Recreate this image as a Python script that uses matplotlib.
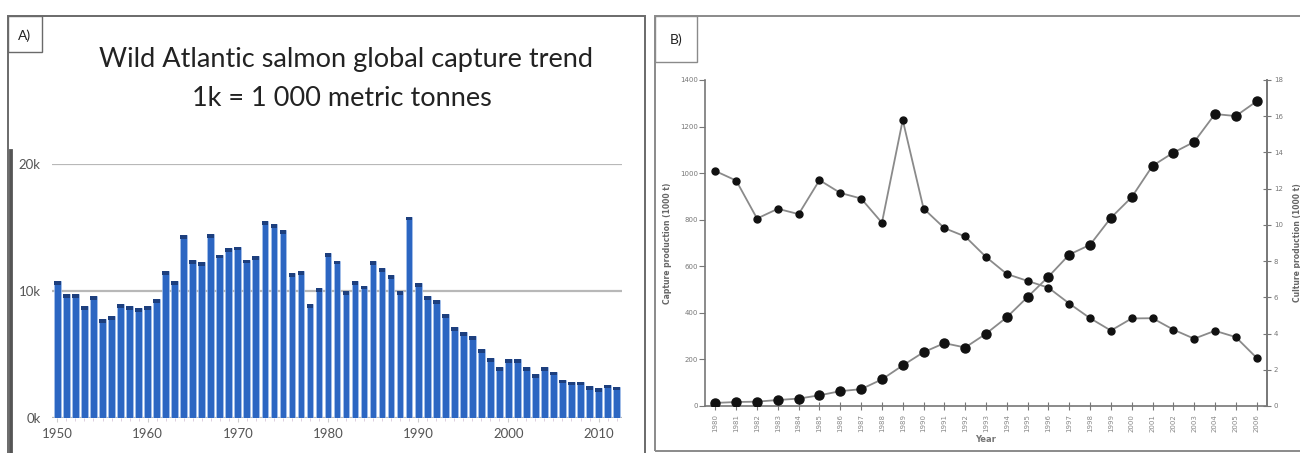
import numpy as np
import matplotlib
matplotlib.use("Agg")
from matplotlib import pyplot as plt
from matplotlib.patches import Rectangle

# panel A: wild Atlantic salmon capture, thousand tonnes, 1950-2012
years_a = np.arange(1950, 2013)
capture_a = [10.8, 9.76, 9.76, 8.83, 9.6, 7.8, 8.04, 9.0, 8.83, 8.65,
             8.8, 9.34, 11.56, 10.77, 14.4, 12.44, 12.3, 14.5, 12.86, 13.37,
             13.5, 12.47, 12.73, 15.5, 15.3, 14.8, 11.38, 11.54, 9.0, 10.24,
             12.97, 12.4, 10.0, 10.77, 10.42, 12.33, 11.8, 11.27, 10.0, 15.86,
             10.64, 9.6, 9.31, 8.17, 7.14, 6.74, 6.47, 5.44, 4.7, 4.0,
             4.67, 4.67, 4.0, 3.47, 4.0, 3.66, 3.02, 2.86, 2.86, 2.49,
             2.33, 2.63, 2.47]
ticks_a = [1950, 1960, 1970, 1980, 1990, 2000, 2010]
ylabels_a = ["0k", "10k", "20k"]

# panel B: capture (left axis) and culture (right axis), 1980-2006
years_b = np.arange(1980, 2007)
capture_b = [1009, 968, 805, 847, 824, 970, 915, 891, 787, 1228,
             848, 764, 728, 640, 567, 537, 508, 440, 377, 324,
             376, 377, 328, 289, 323, 296, 207]
culture_b = [0.17, 0.22, 0.24, 0.33, 0.41, 0.59, 0.82, 0.93, 1.47, 2.24,
             2.97, 3.47, 3.23, 3.99, 4.9, 6.02, 7.14, 8.36, 8.9, 10.39,
             11.53, 13.26, 13.99, 14.58, 16.12, 16.01, 16.82]

W, H = 1300, 453
fig = plt.figure(figsize=(W / 100, H / 100), dpi=100)


def px(x0, y0, x1, y1):
    # pixel box (top-left origin) -> figure fraction rect
    return [x0 / W, 1 - y1 / H, (x1 - x0) / W, (y1 - y0) / H]


# panel frames
fig.patches.append(Rectangle((8 / W, -0.02), 637 / W, 1 - 16 / H + 0.02,
                             transform=fig.transFigure, fill=False,
                             edgecolor="#6a6a6a", lw=1.4))
fig.patches.append(Rectangle((10 / W, -0.02), 0.001, 1 - 150 / H + 0.02,
                             transform=fig.transFigure, fill=False,
                             edgecolor="#555555", lw=2))
fig.patches.append(Rectangle((655 / W, 1 - 451 / H), 650 / W, (451 - 16) / H,
                             transform=fig.transFigure, fill=False,
                             edgecolor="#8a8a8a", lw=1.4))
fig.patches.append(Rectangle((8 / W, 1 - 52 / H), 34 / W, 36 / H,
                             transform=fig.transFigure, fill=False,
                             edgecolor="#6a6a6a", lw=1))
fig.patches.append(Rectangle((655 / W, 1 - 62 / H), 42 / W, 46 / H,
                             transform=fig.transFigure, fill=False,
                             edgecolor="#8a8a8a", lw=1))
fig.text(25 / W, 1 - 36 / H, "A)", ha="center", va="center",
         fontsize=10, family="Lato", color="#222222")
fig.text(676 / W, 1 - 40 / H, "B)", ha="center", va="center",
         fontsize=10, family="Lato", color="#222222")

fig.text(346 / W, 1 - 60 / H, "Wild Atlantic salmon global capture trend",
         ha="center", va="center", fontsize=19.5, family="Lato", color="#222222")
fig.text(342 / W, 1 - 98 / H, "1k = 1 000 metric tonnes",
         ha="center", va="center", fontsize=19.5, family="Lato", color="#222222")

# ---- panel A ----
axa = fig.add_axes(px(52, 164, 622, 418))
vals = np.array(capture_a)
axa.bar(years_a, vals, width=0.74, color="#2c66c2", edgecolor="#a7c3ec",
        linewidth=0.5, zorder=2)
cap = 0.3
axa.bar(years_a, np.full(len(vals), cap), bottom=vals - cap, width=0.74,
        color="#1d3f7e", linewidth=0, zorder=3)
axa.set_xlim(1949.4, 2012.6)
axa.set_ylim(0, 20)
axa.set_yticks([0, 10, 20])
axa.set_yticklabels(ylabels_a)
axa.yaxis.grid(True, color="#b8b8b8", lw=1.6, zorder=0)
axa.set_axisbelow(True)
axa.set_xticks(ticks_a)
axa.set_xticks(years_a, minor=True)
for s in axa.spines.values():
    s.set_visible(False)
axa.tick_params(axis="y", length=0, pad=8, labelsize=9.5, labelcolor="#555555")
axa.tick_params(axis="x", which="major", length=3, color="#cccccc", pad=4,
                labelsize=9.5, labelcolor="#555555")
axa.tick_params(axis="x", which="minor", length=2, color="#d8c8d8")
for t in axa.get_xticklabels() + axa.get_yticklabels():
    t.set_family("Lato")

# ---- panel B ----
axb = fig.add_axes(px(705, 80, 1267, 406))
axb.plot(years_b, capture_b, color="#8a8a8a", lw=1.3, marker="o",
         markersize=5, markerfacecolor="#111111", markeredgecolor="#111111",
         zorder=3)
axb.set_xlim(1979.5, 2006.5)
axb.set_ylim(0, 1400)
axb.set_yticks(np.arange(0, 1401, 200))
axb.set_xticks(years_b)
axb.set_xticklabels([str(y) for y in years_b], rotation=90)
axb.set_facecolor("none")
axb.spines["top"].set_visible(False)
for side in ["left", "bottom", "right"]:
    axb.spines[side].set_color("#777777")
    axb.spines[side].set_linewidth(1.2)
axb.tick_params(axis="y", length=4, color="#777777", labelsize=5,
                labelcolor="#777777", pad=1)
axb.tick_params(axis="x", direction="inout", length=6, color="#777777",
                labelsize=5, labelcolor="#888888", pad=3)
axb.set_xlabel("Year", fontsize=6, color="#777777", fontweight="bold", labelpad=2)
axb.set_ylabel("Capture production (1000 t)", fontsize=5.5, color="#666666",
               fontweight="bold", labelpad=6)

ax2 = axb.twinx()
ax2.plot(years_b, culture_b, color="#8a8a8a", lw=1.3, marker="o",
         markersize=6.5, markerfacecolor="#111111", markeredgecolor="#111111",
         zorder=3)
ax2.set_ylim(0, 18)
ax2.set_yticks(np.arange(0, 19, 2))
ax2.spines["top"].set_visible(False)
ax2.spines["right"].set_color("#777777")
ax2.spines["right"].set_linewidth(1.2)
ax2.spines["left"].set_visible(False)
ax2.spines["bottom"].set_visible(False)
ax2.tick_params(axis="y", direction="inout", length=6, color="#777777",
                labelsize=5, labelcolor="#777777", pad=2)
ax2.set_ylabel("Culture production (1000 t)", fontsize=5.5, color="#666666",
               fontweight="bold", labelpad=7)

fig.savefig("out.png", dpi=100)
